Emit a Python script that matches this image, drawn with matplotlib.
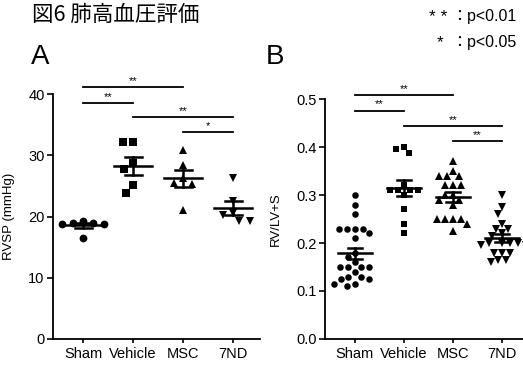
import numpy as np
import matplotlib
matplotlib.use('Agg')
import matplotlib.pyplot as plt

plt.rcParams['font.family'] = ['Liberation Sans', 'Noto Sans CJK JP', 'DejaVu Sans']

groups = ['Sham', 'Vehicle', 'MSC', '7ND']
markers = ['o', 's', '^', 'v']

# A: RVSP (mmHg)
rvsp_sham = [19.3, 18.8, 18.9, 18.8, 18.9, 16.5]
rvsp_vehicle = [32.2, 32.2, 28.7, 27.7, 25.1, 23.8]
rvsp_msc = [30.9, 28.4, 26.3, 25.4, 25.3, 21.1]
rvsp_7nd = [26.3, 22.6, 20.6, 20.2, 19.2, 19.2]

# B: RV/LV+S
ratio_sham = [0.30, 0.28, 0.26, 0.23, 0.23, 0.23, 0.23, 0.22, 0.21, 0.18, 0.17, 0.16,
              0.15, 0.15, 0.15, 0.15, 0.14, 0.13, 0.13, 0.125, 0.125, 0.11, 0.115, 0.115]
ratio_vehicle = [0.40, 0.395, 0.387, 0.32, 0.31, 0.31, 0.31, 0.31, 0.30, 0.27, 0.24, 0.22]
ratio_msc = [0.37, 0.35, 0.34, 0.34, 0.34, 0.32, 0.32, 0.32, 0.30, 0.30, 0.29, 0.29,
             0.28, 0.25, 0.25, 0.25, 0.25, 0.24, 0.225]
ratio_7nd = [0.30, 0.275, 0.26, 0.24, 0.23, 0.23, 0.22, 0.215, 0.20, 0.20, 0.20, 0.195,
             0.195, 0.20, 0.18, 0.18, 0.18, 0.165, 0.165, 0.16]

# significance brackets: (group i, group j, height, label)
rvsp_sig = [(0, 2, 41.1, '**'), (0, 1, 38.6, '**'), (1, 3, 36.2, '**'), (2, 3, 33.8, '*')]
ratio_sig = [(0, 2, 0.508, '**'), (0, 1, 0.476, '**'), (1, 3, 0.444, '**'), (2, 3, 0.413, '**')]

W, H = 523, 366
fig = plt.figure(figsize=(W / 100, H / 100), dpi=100)


def px_axes(l, t, r, b):
    return fig.add_axes([l / W, 1 - b / H, (r - l) / W, (b - t) / H])


def swarm(vals, sx, sy, d):
    # simple beeswarm in pixel space
    order = np.argsort(vals)[::-1]
    placed = []
    xs = np.zeros(len(vals))
    for i in order:
        y = vals[i] * sy
        cands = [0.0]
        for (px, py) in placed:
            dy = abs(py - y)
            if dy < d:
                dx = np.sqrt(d * d - dy * dy)
                cands += [px + dx, px - dx]
        cands = sorted(cands, key=lambda c: (abs(c), c))
        for c in cands:
            ok = all((c - px) ** 2 + (y - py) ** 2 >= d * d - 1e-6 for (px, py) in placed)
            if ok:
                break
        placed.append((c, y))
        xs[i] = c / sx
    return xs


def panel(ax, data, ylim, yticks, fmt, ylabel, sig, ms, d, mean_w, cap_w, lab_x):
    ax.set_ylim(*ylim)
    ax.set_yticks(yticks)
    ax.set_yticklabels([fmt.format(t) for t in yticks])
    ax.set_xticks(range(4))
    ax.set_xticklabels(groups)
    for s in ['top', 'right']:
        ax.spines[s].set_visible(False)
    for s in ['left', 'bottom']:
        ax.spines[s].set_linewidth(1.3)
    ax.tick_params(axis='both', width=1.2, length=4, labelsize=10.5, pad=2)
    ax.tick_params(axis='x', length=3, pad=3)
    ax.set_ylabel(ylabel, fontsize=9.5)
    ax.yaxis.set_label_coords(lab_x, 0.5)

    p0 = ax.transData.transform([0, 0])
    p1 = ax.transData.transform([1, 1])
    sx, sy = p1[0] - p0[0], p1[1] - p0[1]
    for k, vals in enumerate(data):
        vals = np.array(vals)
        xs = swarm(vals, sx, sy, d)
        mk_ms = ms * 1.15 if markers[k] in '^v' else ms
        ax.plot(k + xs, vals, markers[k], color='black', ms=mk_ms, mew=0, clip_on=False, zorder=3)
        m = vals.mean()
        sem = vals.std(ddof=1) / np.sqrt(len(vals))
        ax.plot([k - mean_w / 2, k + mean_w / 2], [m, m], color='black', lw=1.8, zorder=4)
        ax.plot([k, k], [m - sem, m + sem], color='black', lw=1.8, zorder=4)
        for yy in (m - sem, m + sem):
            ax.plot([k - cap_w / 2, k + cap_w / 2], [yy, yy], color='black', lw=1.8, zorder=4)
    span = ylim[1] - ylim[0]
    for i, j, h, lab in sig:
        ax.plot([i, j], [h, h], color='black', lw=1.3, clip_on=False)
        ax.text((i + j) / 2, h + span * 0.004, lab, ha='center', va='bottom',
                fontsize=8, clip_on=False)


axA = px_axes(53, 94, 260, 339)
axA.set_xlim(-0.6, 3.54)
panel(axA, [rvsp_sham, rvsp_vehicle, rvsp_msc, rvsp_7nd], (0, 40), [0, 10, 20, 30, 40],
      '{:.0f}', 'RVSP (mmHg)', rvsp_sig, 5.6, 10.5, 0.76, 0.34, -0.184)

axB = px_axes(325, 99, 523, 339)
axB.set_xlim(-0.61, 3.43)
panel(axB, [ratio_sham, ratio_vehicle, ratio_msc, ratio_7nd], (0, 0.5),
      [0.0, 0.1, 0.2, 0.3, 0.4, 0.5], '{:.1f}', 'RV/LV+S', ratio_sig, 4.7, 8.0, 0.68, 0.27, -0.217)

fig.text(32 / W, 1 - 15 / H, '図6 肺高血圧評価', fontsize=15.5, va='center', ha='left',
         family=['Noto Sans CJK JP', 'DejaVu Sans'])
fig.text(31 / W, 1 - 57 / H, 'A', fontsize=20, va='center', ha='left')
fig.text(266 / W, 1 - 57 / H, 'B', fontsize=20, va='center', ha='left')

fig.text(438 / W, 1 - 17 / H, '* *', fontsize=12.5, va='center', ha='center')
fig.text(451 / W, 1 - 16 / H, '：p<0.01', fontsize=11.5, va='center', ha='left')
fig.text(440 / W, 1 - 43 / H, '*', fontsize=12.5, va='center', ha='center')
fig.text(451 / W, 1 - 42 / H, '：p<0.05', fontsize=11.5, va='center', ha='left')

fig.savefig('out.png', dpi=100)
